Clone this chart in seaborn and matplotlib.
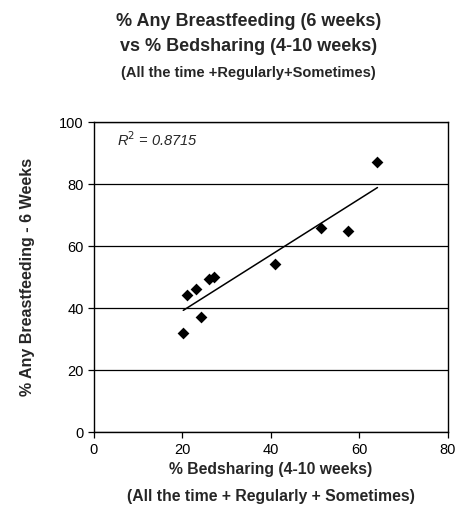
import numpy as np
import pandas as pd
import matplotlib
matplotlib.use("Agg")
import matplotlib.pyplot as plt
import seaborn as sns

bedsharing = [20.2, 21.0, 23.1, 24.3, 26.0, 27.1, 40.9, 51.4, 57.4, 64.1]
breastfeeding = [31.9, 44.2, 46.1, 37.2, 49.4, 50.2, 54.4, 66.0, 65.0, 87.1]
x_ticks = [0, 20, 40, 60, 80]
y_ticks = [0, 20, 40, 60, 80, 100]

df = pd.DataFrame({"x": bedsharing, "y": breastfeeding})

sns.set_theme(style="white")
plt.rcParams['font.family'] = ['Liberation Sans', 'DejaVu Sans']

fig = plt.figure(figsize=(4.65, 5.22), dpi=100)
ax = fig.add_axes([0.202, 0.172, 0.761, 0.594])

sns.regplot(data=df, x="x", y="y", ax=ax, ci=None, truncate=True,
            marker="D", scatter_kws={"s": 36, "color": "black", "linewidths": 0, "alpha": 1},
            line_kws={"color": "black", "lw": 1.1})

ax.set_xlim(0, 80)
ax.set_ylim(0, 100)
ax.set_xticks(x_ticks)
ax.set_yticks(y_ticks)
ax.yaxis.grid(True, color="black", lw=0.9)
ax.set_axisbelow(True)
for s in ax.spines.values():
    s.set_color("black")
    s.set_linewidth(1.0)
ax.tick_params(axis="both", direction="out", length=4, width=0.9, color="black",
               labelsize=10.5, labelcolor="black", bottom=True, left=True)

ax.text(5.2, 94.5, "R$^2$ = 0.8715", fontsize=10.5, style="italic", va="center", ha="left")

ax.set_xlabel("% Bedsharing (4-10 weeks)\n(All the time + Regularly + Sometimes)",
              fontsize=11.3, fontweight="bold", labelpad=4, linespacing=1.95)
ax.set_ylabel("% Any Breastfeeding - 6 Weeks", fontsize=11.5, fontweight="bold", labelpad=17)

fig.text(0.535, 0.958, "% Any Breastfeeding (6 weeks)", ha="center", va="center",
         fontsize=13, fontweight="bold")
fig.text(0.535, 0.91, "vs % Bedsharing (4-10 weeks)", ha="center", va="center",
         fontsize=13, fontweight="bold")
fig.text(0.535, 0.861, "(All the time +Regularly+Sometimes)", ha="center", va="center",
         fontsize=10.5, fontweight="bold")

fig.savefig("out.png", dpi=100, facecolor="white")
